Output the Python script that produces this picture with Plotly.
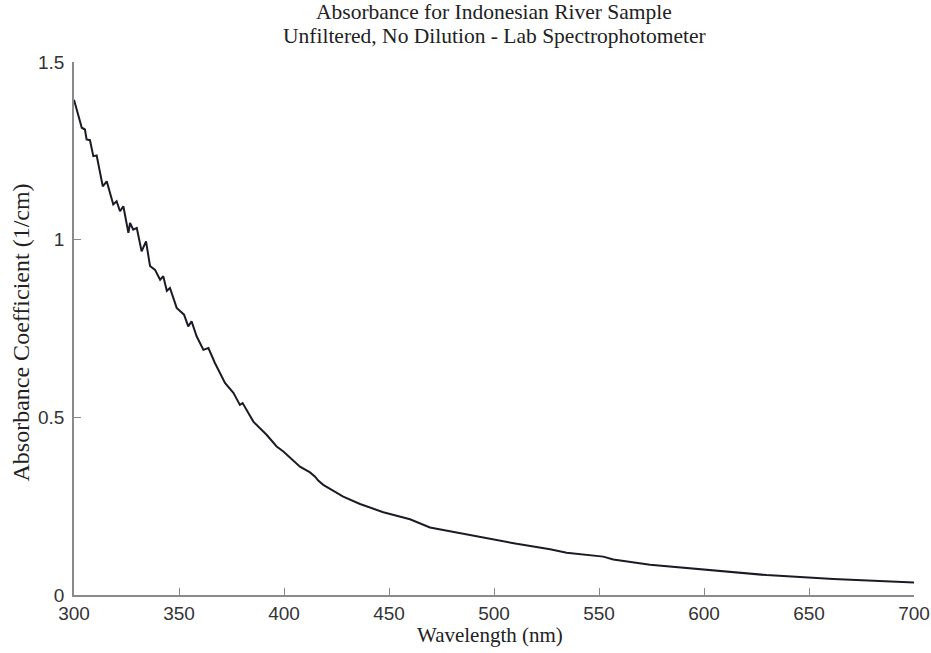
import plotly.graph_objects as go

# Absorbance spectrum of the unfiltered river sample (lab spectrophotometer)
wavelength_nm = [
    300, 303.7, 305.2, 306.0, 307.6, 309.2, 310.8, 313.7, 315.6, 318.7,
    320.3, 321.9, 323.5, 325.9, 326.7, 328.2, 329.9, 332.2, 334.3, 336.2,
    338.6, 341.0, 342.5, 344.2, 345.7, 348.9, 352.4, 354.4, 356.0, 358.4,
    361.6, 364.0, 367.1, 371.9, 375.9, 379.0, 380.3, 385.4, 391.7, 396.5,
    399.7, 404.4, 407.6, 412.4, 414.8, 416.3, 418.7, 428.2, 436.2, 447.3,
    460.0, 469.5, 482.2, 498.1, 510.8, 526.7, 534.6, 552.0, 556.8, 574.3,
    598.1, 629.8, 661.6, 700,
]
absorbance_per_cm = [
    1.394, 1.315, 1.310, 1.282, 1.280, 1.235, 1.237, 1.150, 1.164, 1.099,
    1.108, 1.080, 1.094, 1.019, 1.047, 1.028, 1.033, 0.967, 0.995, 0.926,
    0.915, 0.887, 0.897, 0.856, 0.864, 0.808, 0.789, 0.756, 0.770, 0.728,
    0.690, 0.695, 0.653, 0.597, 0.569, 0.535, 0.540, 0.488, 0.451, 0.418,
    0.404, 0.380, 0.361, 0.345, 0.333, 0.322, 0.310, 0.277, 0.256, 0.233,
    0.213, 0.190, 0.176, 0.158, 0.144, 0.129, 0.119, 0.108, 0.100, 0.085,
    0.073, 0.056, 0.045, 0.035,
]
x_ticks = [300, 350, 400, 450, 500, 550, 600, 650, 700]
y_ticks = [0, 0.5, 1, 1.5]
y_tick_text = ["0", "0.5", "1", "1.5"]

title_lines = [
    "Absorbance for Indonesian River Sample",
    "Unfiltered, No Dilution - Lab Spectrophotometer",
]
x_title = "Wavelength (nm)"
y_title = "Absorbance Coefficient (1/cm)"

serif = "Liberation Serif, Times New Roman, serif"
sans = "Liberation Sans, Arial, sans-serif"
axis_gray = "#8a8a8a"
text_dark = "#222222"

fig = go.Figure(
    go.Scatter(
        x=wavelength_nm,
        y=absorbance_per_cm,
        mode="lines",
        line=dict(color="#1b1b26", width=2),
        showlegend=False,
    )
)

axis_common = dict(
    ticks="inside",
    ticklen=7,
    tickcolor=axis_gray,
    tickwidth=1,
    showline=True,
    linecolor=axis_gray,
    linewidth=1.5,
    mirror=False,
    showgrid=False,
    zeroline=False,
    automargin=False,
    tickfont=dict(family=sans, size=19, color="#333333"),
)

fig.update_layout(
    width=931,
    height=653,
    margin=dict(l=74, r=17, t=62, b=58),
    paper_bgcolor="white",
    plot_bgcolor="white",
    xaxis=dict(range=[300, 700], tickvals=x_ticks, **axis_common),
    yaxis=dict(
        range=[0, 1.5],
        tickvals=y_ticks,
        ticktext=y_tick_text,
        ticklabelstandoff=4,
        **axis_common,
    ),
)

# Two-line title above the plot area
for text, shift in zip(title_lines, [50, 26]):
    fig.add_annotation(
        text=text,
        xref="paper", yref="paper",
        x=0.5, y=1, xanchor="center", yanchor="middle",
        yshift=shift, showarrow=False,
        font=dict(family=serif, size=21.5, color=text_dark),
    )

# Axis titles
fig.add_annotation(
    text=x_title,
    xref="paper", yref="paper",
    x=0.5, y=0, xanchor="center", yanchor="middle",
    xshift=-4, yshift=-40, showarrow=False,
    font=dict(family=serif, size=21, color=text_dark),
)
fig.add_annotation(
    text=y_title,
    xref="paper", yref="paper",
    x=0, y=0.5, xanchor="center", yanchor="middle",
    xshift=-54, yshift=-4, textangle=-90, showarrow=False,
    font=dict(family=serif, size=24, color=text_dark),
)

fig.write_html("out.html")
